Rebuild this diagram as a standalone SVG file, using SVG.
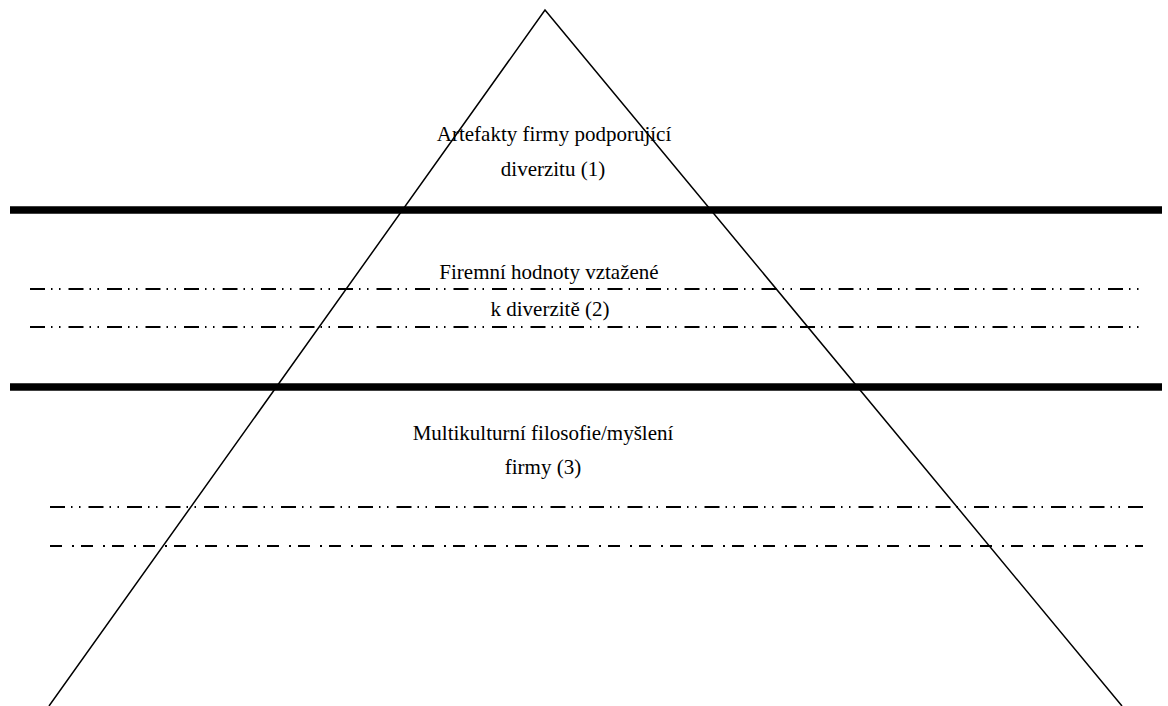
<svg xmlns="http://www.w3.org/2000/svg" width="1168" height="706" viewBox="0 0 1168 706">
  <style>
    .label { font-size: 21px; fill: #000; text-anchor: middle; }
    .band { stroke: #000; stroke-width: 7.5; fill: none; }
    .dd { stroke: #000; stroke-width: 2; fill: none; stroke-dasharray: 15 6 1.5 6.5 1.5 8; }
    .d1 { stroke: #000; stroke-width: 2; fill: none; stroke-dasharray: 12 10 2 7; }
    .edge { stroke: #000; stroke-width: 1.5; fill: none; }
  </style>
  <rect width="1168" height="706" fill="#fff"/>

  <!-- layer separators -->
  <g id="connectors">
    <line class="band" x1="10" y1="210" x2="1162" y2="210"/>
    <line class="band" x1="10" y1="387" x2="1162" y2="387"/>
    <line class="dd" x1="30" y1="289" x2="1140" y2="289"/>
    <line class="dd" x1="30" y1="327" x2="1140" y2="327"/>
    <line class="dd" x1="50" y1="507" x2="1143" y2="507"/>
    <line class="d1" x1="50" y1="546" x2="1143" y2="546"/>
  </g>

  <!-- pyramid outline -->
  <g id="pyramid">
    <polyline class="edge" points="49,706 545,10 1122,706"/>
  </g>

  <g font-family="'Liberation Serif', 'DejaVu Serif', serif">
    <g id="level1">
      <text class="label" x="554" y="141">Artefakty firmy podporující</text>
      <text class="label" x="553" y="176">diverzitu (1)</text>
    </g>
    <g id="level2">
      <text class="label" x="549" y="279">Firemní hodnoty vztažené</text>
      <text class="label" x="550" y="316">k diverzitě (2)</text>
    </g>
    <g id="level3">
      <text class="label" x="543" y="440">Multikulturní filosofie/myšlení</text>
      <text class="label" x="543" y="474">firmy (3)</text>
    </g>
  </g>
</svg>
